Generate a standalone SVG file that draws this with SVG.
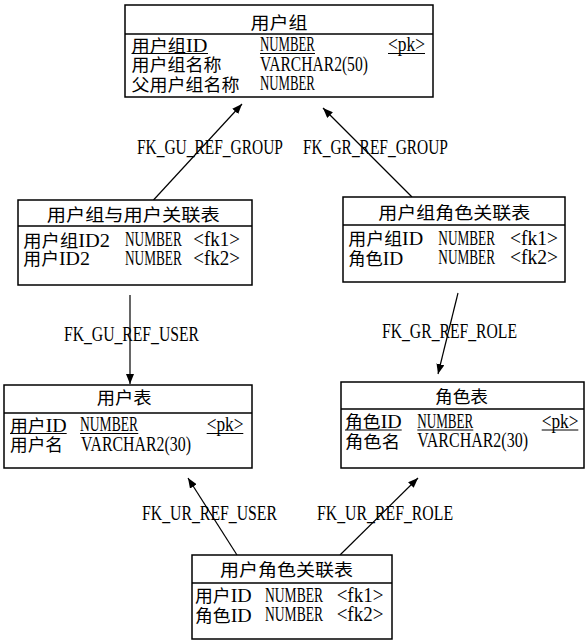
<svg xmlns="http://www.w3.org/2000/svg" width="586" height="642" viewBox="0 0 586 642">
<style>
.b{fill:#fff;stroke:#000;stroke-width:1.5}
.s{stroke:#000;stroke-width:1.5}
.u{stroke:#000;stroke-width:1}
.t{font-family:"Liberation Serif","Noto Sans CJK SC",serif;font-size:17px;fill:#000}
.l{font-size:22px}
.m{font-size:19px}
.c{stroke:#000;stroke-width:1.2;fill:none;marker-end:url(#ah)}
.lb{font-family:"Liberation Serif","Noto Sans CJK SC",serif;font-size:20px;fill:#000}
</style>
<defs>
<marker id="ah" markerUnits="userSpaceOnUse" markerWidth="11" markerHeight="8" refX="10" refY="4" orient="auto"><path d="M0,0 L10,4 L0,8 z" fill="#000"/></marker>
</defs>
<rect width="586" height="642" fill="#fff"/>

<g id="connectors">
<g id="fk_gu_ref_group">
<line class="c" x1="153.5" y1="200" x2="242" y2="104"/>
<text class="lb" x="137" y="154" transform="matrix(0.773 0 0 1 31.1 0)">FK_GU_REF_GROUP</text>
</g>
<g id="fk_gr_ref_group">
<line class="c" x1="412" y1="197" x2="323" y2="108"/>
<text class="lb" x="303" y="154" transform="matrix(0.772 0 0 1 69.1 0)">FK_GR_REF_GROUP</text>
</g>
<g id="fk_gu_ref_user">
<line class="c" x1="130" y1="295" x2="130" y2="384"/>
<text class="lb" x="64" y="341" transform="matrix(0.784 0 0 1 13.8 0)">FK_GU_REF_USER</text>
</g>
<g id="fk_gr_ref_role">
<line class="c" x1="458" y1="293" x2="438" y2="374"/>
<text class="lb" x="382" y="338" transform="matrix(0.784 0 0 1 82.5 0)">FK_GR_REF_ROLE</text>
</g>
<g id="fk_ur_ref_user">
<line class="c" x1="237" y1="555" x2="188" y2="478"/>
<text class="lb" x="142" y="520" transform="matrix(0.789 0 0 1 30.0 0)">FK_UR_REF_USER</text>
</g>
<g id="fk_ur_ref_role">
<line class="c" x1="340" y1="555" x2="418" y2="478"/>
<text class="lb" x="317" y="520" transform="matrix(0.790 0 0 1 66.6 0)">FK_UR_REF_ROLE</text>
</g>
</g>

<g id="user_group">
<rect class="b" x="125" y="5" width="308" height="92"/>
<line class="s" x1="125" y1="34" x2="433" y2="34"/>
<text class="t" x="250.5" y="29" textLength="57" lengthAdjust="spacingAndGlyphs">用户组</text>
<text class="t" x="131.5" y="51.5" textLength="76" lengthAdjust="spacingAndGlyphs">用户组<tspan class="m">ID</tspan></text>
<text class="t l" x="260" y="51.5" transform="matrix(0.5845 0 0 1 108.0 0)">NUMBER</text>
<text class="t l" x="388" y="51.5" transform="matrix(0.7906 0 0 1 81.2 0)">&lt;pk&gt;</text>
<line class="u" x1="131.5" y1="53.5" x2="208" y2="53.5"/>
<line class="u" x1="260" y1="53.5" x2="315" y2="53.5"/>
<line class="u" x1="388" y1="53.5" x2="425" y2="53.5"/>
<text class="t" x="131.5" y="71" textLength="90" lengthAdjust="spacingAndGlyphs">用户组名称</text>
<text class="t l" x="260" y="71" transform="matrix(0.7088 0 0 1 75.7 0)">VARCHAR2(50)</text>
<text class="t" x="131.5" y="90.5" textLength="108" lengthAdjust="spacingAndGlyphs">父用户组名称</text>
<text class="t l" x="260" y="90.5" transform="matrix(0.5845 0 0 1 108.0 0)">NUMBER</text>
</g>

<g id="user_group_user">
<rect class="b" x="18" y="200" width="234" height="85"/>
<line class="s" x1="18" y1="226" x2="252" y2="226"/>
<text class="t" x="46.7" y="220.5" textLength="173" lengthAdjust="spacingAndGlyphs">用户组与用户关联表</text>
<text class="t" x="23.3" y="246.5" textLength="86.7" lengthAdjust="spacingAndGlyphs">用户组<tspan class="m">ID2</tspan></text>
<text class="t l" x="125" y="246.5" transform="matrix(0.6026 0 0 1 49.7 0)">NUMBER</text>
<text class="t l" x="193.3" y="246.5" transform="matrix(0.863 0 0 1 26.5 0)">&lt;fk1&gt;</text>
<text class="t" x="23.3" y="265" textLength="66.7" lengthAdjust="spacingAndGlyphs">用户<tspan class="m">ID2</tspan></text>
<text class="t l" x="125" y="265" transform="matrix(0.6026 0 0 1 49.7 0)">NUMBER</text>
<text class="t l" x="193.3" y="265" transform="matrix(0.863 0 0 1 26.5 0)">&lt;fk2&gt;</text>
</g>

<g id="user_group_role">
<rect class="b" x="343" y="197" width="222" height="85"/>
<line class="s" x1="343" y1="225" x2="565" y2="225"/>
<text class="t" x="378.3" y="219" textLength="152" lengthAdjust="spacingAndGlyphs">用户组角色关联表</text>
<text class="t" x="348.3" y="245" textLength="75" lengthAdjust="spacingAndGlyphs">用户组<tspan class="m">ID</tspan></text>
<text class="t l" x="438.3" y="245" transform="matrix(0.6026 0 0 1 174.2 0)">NUMBER</text>
<text class="t l" x="510" y="245" transform="matrix(0.887 0 0 1 57.6 0)">&lt;fk1&gt;</text>
<text class="t" x="348.3" y="264.5" textLength="55" lengthAdjust="spacingAndGlyphs">角色<tspan class="m">ID</tspan></text>
<text class="t l" x="438.3" y="264.5" transform="matrix(0.6026 0 0 1 174.2 0)">NUMBER</text>
<text class="t l" x="510" y="264.5" transform="matrix(0.887 0 0 1 57.6 0)">&lt;fk2&gt;</text>
</g>

<g id="user">
<rect class="b" x="4" y="385" width="248" height="83"/>
<line class="s" x1="4" y1="413" x2="252" y2="413"/>
<text class="t" x="96.7" y="404" textLength="55" lengthAdjust="spacingAndGlyphs">用户表</text>
<text class="t" x="10" y="431.5" textLength="56.7" lengthAdjust="spacingAndGlyphs">用户<tspan class="m">ID</tspan></text>
<text class="t l" x="80" y="431.5" transform="matrix(0.6164 0 0 1 30.7 0)">NUMBER</text>
<text class="t l" x="206.7" y="431.5" transform="matrix(0.7842 0 0 1 44.6 0)">&lt;pk&gt;</text>
<line class="u" x1="10" y1="433.5" x2="66.7" y2="433.5"/>
<line class="u" x1="80" y1="433.5" x2="138.3" y2="433.5"/>
<line class="u" x1="206.7" y1="433.5" x2="243.3" y2="433.5"/>
<text class="t" x="10" y="451" textLength="53" lengthAdjust="spacingAndGlyphs">用户名</text>
<text class="t l" x="81" y="451" transform="matrix(0.7216 0 0 1 22.6 0)">VARCHAR2(30)</text>
</g>

<g id="role">
<rect class="b" x="341" y="382" width="243" height="86"/>
<line class="s" x1="341" y1="409" x2="584" y2="409"/>
<text class="t" x="435" y="402.5" textLength="53" lengthAdjust="spacingAndGlyphs">角色表</text>
<text class="t" x="345" y="428" textLength="56.7" lengthAdjust="spacingAndGlyphs">角色<tspan class="m">ID</tspan></text>
<text class="t l" x="417.3" y="428" transform="matrix(0.5951 0 0 1 169.0 0)">NUMBER</text>
<text class="t l" x="541.7" y="428" transform="matrix(0.7842 0 0 1 116.9 0)">&lt;pk&gt;</text>
<line class="u" x1="345" y1="430" x2="401.7" y2="430"/>
<line class="u" x1="417.3" y1="430" x2="473.3" y2="430"/>
<line class="u" x1="541.7" y1="430" x2="578.3" y2="430"/>
<text class="t" x="345" y="447.5" textLength="55" lengthAdjust="spacingAndGlyphs">角色名</text>
<text class="t l" x="417.3" y="447.5" transform="matrix(0.7262 0 0 1 114.3 0)">VARCHAR2(30)</text>
</g>

<g id="user_role">
<rect class="b" x="192" y="555" width="200" height="84"/>
<line class="s" x1="192" y1="583" x2="392" y2="583"/>
<text class="t" x="220" y="576" textLength="133" lengthAdjust="spacingAndGlyphs">用户角色关联表</text>
<text class="t" x="195" y="602" textLength="56.7" lengthAdjust="spacingAndGlyphs">用户<tspan class="m">ID</tspan></text>
<text class="t l" x="265" y="602" transform="matrix(0.6164 0 0 1 101.7 0)">NUMBER</text>
<text class="t l" x="336.7" y="602" transform="matrix(0.863 0 0 1 46.1 0)">&lt;fk1&gt;</text>
<text class="t" x="195" y="621.5" textLength="56.7" lengthAdjust="spacingAndGlyphs">角色<tspan class="m">ID</tspan></text>
<text class="t l" x="265" y="621.5" transform="matrix(0.6164 0 0 1 101.7 0)">NUMBER</text>
<text class="t l" x="336.7" y="621.5" transform="matrix(0.863 0 0 1 46.1 0)">&lt;fk2&gt;</text>
</g>
</svg>
